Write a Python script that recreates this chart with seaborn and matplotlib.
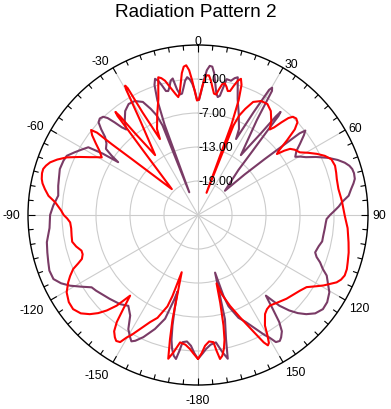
import numpy as np
import matplotlib
matplotlib.use("Agg")
import matplotlib.pyplot as plt
import seaborn as sns

# ---------------- data ----------------
title = "Radiation Pattern 2"

red_angle = [-180, -178, -176.6, -174.5, -172, -170, -168.3, -167.3, -166.3, -164.1,
             -162.5, -161.5, -158.5, -155.9, -153, -151, -149.8, -148.5, -147, -145.8,
             -144.2, -142.8, -141.5, -139.9, -138.1, -136.3, -134.5, -132.5, -130, -127,
             -124, -120.5, -117.4, -115.5, -113.4, -112, -110.7, -108.8, -107, -104.5,
             -102, -99.3, -96, -93.3, -91.5, -90, -88, -86.5, -84.9, -82.7,
             -80.4, -78.5, -77, -75, -73.4, -72, -70.4, -68.5, -66.3, -63.8,
             -61.8, -60.3, -59.1, -57, -55, -53, -51.5, -50.8, -50.6, -49.8,
             -48.5, -45.3, -41.9, -40.4, -39.5, -39.1, -38.7, -38.3, -37.6, -35.6,
             -31.4, -29.8, -29.4, -29.0, -28.4, -26.6, -25.5, -22, -18.9, -16.5,
             -16.1, -15.0, -13.8, -12.8, -11.8, -10.5, -9.5, -8.5, -7.5, -6.5,
             -5.5, -4.5, -3.5, -2.5, -1.5, -0.5, 0.5, 1.5, 2.5, 3.5,
             4.5, 5.5, 6.5, 7.5, 8.5, 9.5, 10.5, 11.5, 12.5, 13.5,
             14.5, 15.5, 16.5, 17.5, 18.5, 19.5, 20.3, 21, 21.6, 22.5,
             24, 26, 29, 32, 35, 38, 40, 41, 42, 43,
             44, 45.5, 47, 48.5, 50, 51.5, 52.3, 53.3, 54.3, 56,
             58.4, 60.5, 62.8, 65, 67.3, 70.2, 73, 75.5, 79.5, 84.3,
             90.3, 95, 100.3, 104, 107.5, 110, 112.4, 114.3, 115.9, 117.5,
             119.3, 121, 123.6, 126.6, 130, 133.4, 137.5, 141.6, 143.8, 145.9,
             147.5, 148.8, 150, 151, 151.8, 152.7, 154, 157.7, 160.6, 163.3,
             164.8, 165.8, 167, 168, 169, 170.2, 171.3, 172.2, 173.1, 175,
             176.9, 178.5, 180]
red_db = [0.4, -0.6, -1.3, -2.0, -2.3, -0.5, 0.9, -2.5, -6.0, -14.5,
          -10.0, -8.0, -5.5, -4.3, -2.4, -0.8, 0.0, 1.3, 1.5, 1.1,
          0.3, -1.3, -3.8, -6.4, -3.5, -1.7, -0.3, 0.9, 2.0, 2.6,
          2.5, 1.9, 0.8, 0.0, -1.0, -2.2, -3.1, -3.5, -3.5, -2.8,
          -2.3, -2.4, -2.5, -2.4, -1.9, -1.3, -0.8, -0.3, 0.3, 1.6,
          2.4, 3.0, 3.3, 3.5, 3.5, 3.2, 2.7, 1.7, 0.3, -1.8,
          -3.4, -4.4, -5.2, -4.3, -3.0, -1.6, -0.9, -2.0, -5.3, -9.7,
          -14.1, -18.5, -14.3, -10.1, -5.9, -2.5, -1.7, -2.8, -6.8, -12.0,
          -5.3, 0.5, 1.2, 0.6, -4.4, -10.0, -8.2, -5.8, -3.4, -0.3,
          0.3, 0.0, -0.6, -1.5, -2.3, -3.3, -3.9, -3.2, -1.6, 0.2,
          1.3, 1.5, 0.6, -1.2, -3.2, -4.8, -4.6, -3.0, -1.3, -0.3,
          -0.3, -1.2, -2.4, -3.4, -3.5, -2.5, -1.5, -1.3, -1.8, -2.5,
          -2.4, -1.3, -0.3, 0.2, -0.8, -3.5, -8.0, -20.8, -8.0, -6.0,
          -4.5, -2.8, -2.0, -1.9, -2.6, -4.0, -5.3, -4.5, -3.0, -1.6,
          -0.9, -0.7, -1.0, -2.2, -4.5, -6.8, -7.4, -6.0, -5.0, -4.4,
          -3.9, -2.7, -1.4, -0.3, 0.5, 0.7, 0.5, 0.3, 0.2, 0.5,
          0.9, 1.5, 2.0, 2.4, 2.7, 2.95, 3.0, 2.7, 2.2, 1.3,
          0.4, -0.6, -2.0, -2.6, -3.1, -3.5, -4.1, -4.6, -4.4, -3.9,
          -3.0, -2.2, -0.5, 0.8, 1.1, 0.3, -1.5, -5.5, -8.0, -10.4,
          -12.5, -9.0, -5.0, -2.5, -1.0, 0.2, 0.7, -0.8, -2.4, -2.6,
          -1.9, -0.6, 0.4]

purple_angle = [-180, -178.5, -176.9, -175, -173.1, -172.2, -171.3, -170.2, -169, -168,
                -167, -166, -165, -164.3, -162.4, -159.3, -155.9, -153.5, -152.2, -151,
                -148.6, -146, -142.5, -138.8, -133.4, -130, -126.6, -124.2, -121.5, -118.9,
                -116.5, -113.9, -110.5, -107.5, -104, -100.2, -95, -90, -86.3, -84,
                -82.1, -78.2, -75, -71.6, -68, -65.7, -63, -60.5, -58.3, -57.2,
                -56.5, -55.5, -54.3, -52, -50, -48.5, -47, -45.5, -44, -43,
                -42, -41, -40, -38, -35, -32, -29, -26, -24, -22.5,
                -21.6, -21, -20.3, -19.5, -18.5, -17.5, -16.5, -15.5, -14.5, -13.5,
                -12.5, -11.5, -10.5, -9.5, -8.5, -7.5, -6.5, -5.5, -4.5, -3.5,
                -2.5, -1.5, -0.5, 0.5, 1.5, 2.5, 3.5, 4.5, 5.5, 6.5,
                7.5, 8.5, 9.5, 10.4, 11.9, 13.8, 15, 16.1, 16.5, 18.9,
                22, 25.5, 26.6, 28.4, 29.6, 30.2, 30.8, 31.8, 35.6, 37.6,
                38.3, 38.7, 39.1, 39.5, 40.4, 41.9, 48, 49, 50, 50.8,
                51.2, 51.8, 53, 55, 57, 59.1, 60.3, 61.8, 63.8, 66.3,
                68.5, 70.4, 72, 73.4, 75, 77, 78.5, 80.4, 82.7, 84.9,
                86.5, 88, 90, 91.8, 93.3, 96, 99.4, 102, 104.5, 107.7,
                109.5, 111.2, 113.4, 115.2, 117.4, 120.5, 124, 127, 130, 132.5,
                134.5, 136.3, 138.1, 139.9, 141.5, 142.8, 144.2, 145.8, 147, 148.5,
                149.8, 151, 153, 155.9, 158.5, 161.5, 162.5, 163.5, 165.5, 167.3,
                168.3, 170, 172, 174.5, 176.6, 178, 180]
purple_db = [0.4, -0.6, -1.9, -2.6, -2.4, -0.8, 0.7, 0.2, -1.0, -2.5,
             -5.0, -8.0, -11.0, -9.5, -5.8, -3.5, -1.4, -0.2, 0.2, -0.3,
             -1.4, -3.6, -4.8, -4.1, -3.5, -3.1, -2.6, -2.3, -0.8, 0.8,
             2.0, 2.9, 3.0, 2.7, 2.4, 2.1, 1.3, 1.1, 0.6, 0.2,
             -0.1, 0.2, 0.4, 0.7, 0.6, 0.4, -0.6, -1.5, -2.25, -5.0,
             -8.1, -6.5, -5.0, -4.5, -3.6, -2.2, -1.0, -0.7, -0.9, -1.6,
             -3.0, -4.5, -5.3, -4.0, -2.6, -1.9, -2.0, -2.8, -4.5, -6.0,
             -8.0, -20.7, -8.0, -3.5, -0.8, 0.2, -0.3, -1.3, -2.4, -2.5,
             -1.8, -0.8, -0.5, -2.5, -3.5, -3.4, -2.4, -1.2, -0.6, -1.0,
             -1.8, -3.0, -4.6, -4.7, -3.2, -1.2, 0.6, 1.4, 1.3, 0.2,
             -1.6, -3.2, -3.9, -3.6, -0.5, -0.6, 0.0, 0.3, -0.3, -3.4,
             -5.8, -8.2, -10.0, -4.4, 0.4, 1.0, 0.5, -5.3, -12.0, -6.8,
             -2.8, -1.7, -2.5, -5.9, -10.1, -14.3, -18.6, -14.1, -9.7, -5.3,
             -2.0, -0.9, -1.6, -3.0, -4.3, -5.0, -4.2, -3.4, -1.8, 0.1,
             1.5, 2.5, 3.1, 3.4, 3.5, 3.4, 3.0, 2.4, 1.8, 0.5,
             -0.1, -0.8, -1.7, -2.3, -2.4, -2.5, -2.6, -2.6, -3.0, -3.3,
             -2.8, -1.9, -1.0, 0.1, 0.8, 1.9, 2.5, 2.6, 2.0, 0.9,
             -0.3, -1.7, -3.5, -6.4, -3.8, -1.3, 0.3, 1.1, 1.5, 1.3,
             0.0, -0.8, -2.4, -4.3, -5.5, -8.0, -10.0, -14.4, -6.0, -2.5,
             0.9, -0.5, -2.3, -2.0, -1.3, -0.6, 0.4]

r_ticks = [-19, -13, -7, -1]
r_tick_labels = ["-19.00", "-13.00", "-7.00", "-1.00"]
theta_tick_deg = [0, 30, 60, 90, 120, 150, 180, 210, 240, 270, 300, 330]
theta_tick_labels = ["0", "30", "60", "90", "120", "150", "-180",
                     "-150", "-120", "-90", "-60", "-30"]

# ---------------- style ----------------
sns.set_style("white")
plt.rcParams["font.family"] = ["Liberation Sans", "DejaVu Sans"]

RED = "#ff0000"
PURPLE = "#7a3b66"
GRID = "#cccccc"
R_MIN, R_MAX = -25, 5
R_PX = 170.0
px_per_db = R_PX / (R_MAX - R_MIN)

fig = plt.figure(figsize=(3.91, 4.10), dpi=100)
ax = fig.add_axes([0.0716, 0.0585, 0.8696, 0.8293], projection="polar")
ax.set_theta_zero_location("N")
ax.set_theta_direction(-1)

sns.lineplot(x=np.deg2rad(purple_angle), y=purple_db, ax=ax, color=PURPLE,
             lw=1.5, sort=False, estimator=None, zorder=3)
sns.lineplot(x=np.deg2rad(red_angle), y=red_db, ax=ax, color=RED,
             lw=1.5, sort=False, estimator=None, zorder=4)
ax.set_xlabel("")
ax.set_ylabel("")
ax.set_ylim(R_MIN, R_MAX)

# grid
ax.set_yticks(r_ticks)
ax.set_yticklabels([])
ax.set_xticks(np.deg2rad(theta_tick_deg))
ax.set_xticklabels([])
ax.grid(True, color=GRID, lw=0.8)
ax.tick_params(length=0)
ax.spines["polar"].set_color("black")
ax.spines["polar"].set_linewidth(1.0)

# tick marks on the outer circle, pointing inward
minor_deg = np.arange(0, 360, 5)
for d in minor_deg:
    L = 7.0 if d % 30 == 0 else 5.0
    ax.plot([np.deg2rad(d)] * 2, [R_MAX, R_MAX - L / px_per_db], color="black",
            lw=0.8, clip_on=False, zorder=5, solid_capstyle="butt")
ax.set_ylim(R_MIN, R_MAX)

FS = 8.7

# radial labels
for v, lab in zip(r_ticks, r_tick_labels):
    ax.text(0, v, lab, ha="left", va="center", fontsize=FS, color="black", zorder=6)

# angular labels
for deg, lab in zip(theta_tick_deg, theta_tick_labels):
    th = np.deg2rad(deg)
    s, c = np.sin(th), np.cos(th)
    if abs(s) < 0.1:
        ha = "center"
        va = "baseline" if c > 0 else "top"
        d = 171 if c > 0 else 179
    else:
        ha = "left" if s > 0 else "right"
        va = "top" if c < -0.3 else "center"
        d = 174 if s > 0 else 177.5
    r = d / px_per_db + R_MIN
    ax.text(th, r, lab, ha=ha, va=va, fontsize=FS, color="black", clip_on=False)

fig.text(0.5, 1 - 12.5 / 410, title, ha="center", va="center", fontsize=13.7, color="black")

fig.savefig("out.png", dpi=100)
